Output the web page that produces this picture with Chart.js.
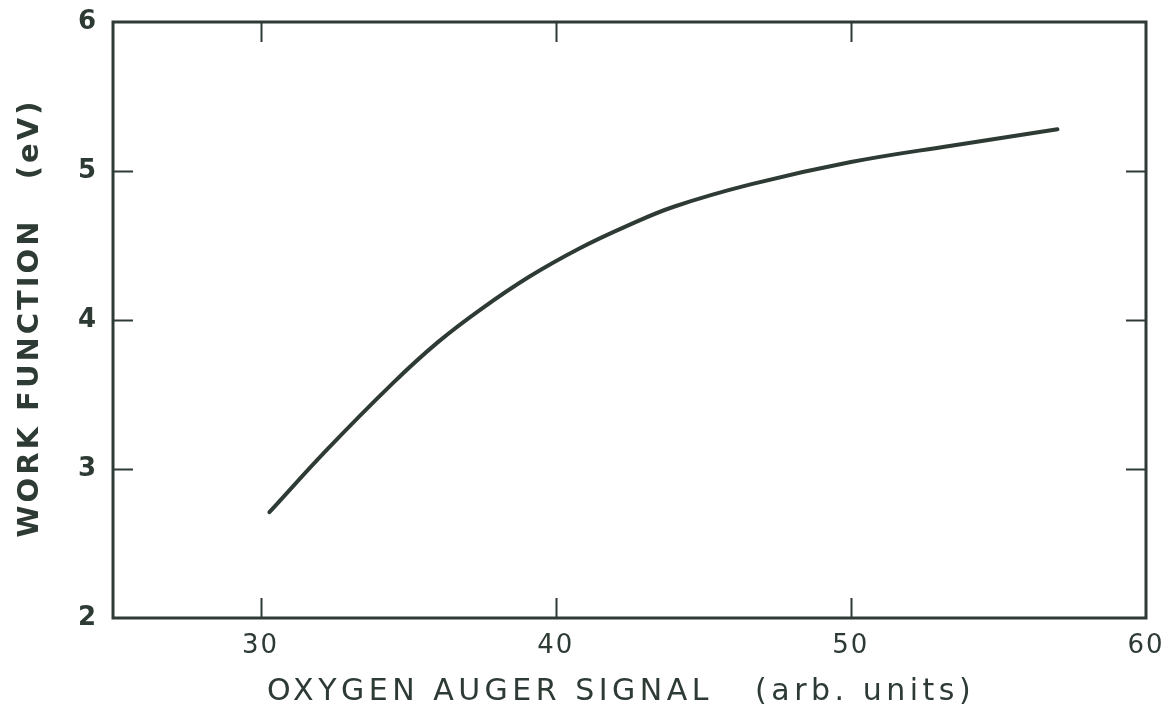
<!DOCTYPE html>
<html>
<head>
<meta charset="utf-8">
<script src="https://cdn.jsdelivr.net/npm/chart.js@4/dist/chart.umd.min.js"></script>
<style>
  html, body { margin: 0; padding: 0; background: #ffffff; }
  #c { display: block; }
</style>
</head>
<body>
<canvas id="c" width="1174" height="716"></canvas>
<script>
// Work function versus oxygen Auger signal
const augerSignal  = [30.3, 32.25, 34.5, 36.0, 37.45, 39.1, 40.8, 42.4, 44.0, 46.6, 50.0, 53.4, 57.0];
const workFunction = [2.71, 3.13, 3.58, 3.85, 4.07, 4.29, 4.48, 4.63, 4.76, 4.91, 5.06, 5.17, 5.28];
const xTicks = [30, 40, 50, 60];
const yTicks = [2, 3, 4, 5, 6];
const xTitle = 'OXYGEN AUGER SIGNAL   (arb. units)';
const yTitle = 'WORK FUNCTION   (eV)';

const INK = '#2e3b34';
const FONT = '"DejaVu Sans", "Liberation Sans", Arial, sans-serif';

// Boxed frame with inward ticks on all four sides, plus axis titles
const framePlugin = {
  id: 'frame',
  beforeDraw(chart) {
    chart.ctx.letterSpacing = '2px';
  },
  afterDraw(chart) {
    const { ctx, chartArea: a, scales: { x, y } } = chart;
    const len = 20;
    ctx.save();
    ctx.strokeStyle = INK;
    ctx.lineWidth = 3;
    ctx.lineJoin = 'miter';
    ctx.strokeRect(a.left, a.top, a.right - a.left, a.bottom - a.top);
    ctx.lineWidth = 2;
    ctx.beginPath();
    xTicks.forEach(v => {
      if (v <= x.min || v >= x.max) return;
      const px = Math.round(x.getPixelForValue(v)) + 0.5;
      ctx.moveTo(px, a.bottom); ctx.lineTo(px, a.bottom - len);
      ctx.moveTo(px, a.top);    ctx.lineTo(px, a.top + len);
    });
    yTicks.forEach(v => {
      if (v <= y.min || v >= y.max) return;
      const py = Math.round(y.getPixelForValue(v)) + 0.5;
      ctx.moveTo(a.left, py);  ctx.lineTo(a.left + len, py);
      ctx.moveTo(a.right, py); ctx.lineTo(a.right - len, py);
    });
    ctx.stroke();

    ctx.fillStyle = INK;
    ctx.textAlign = 'center';
    ctx.textBaseline = 'middle';
    // x title
    ctx.font = '400 30px ' + FONT;
    ctx.letterSpacing = '4.5px';
    ctx.fillText(xTitle, 621, 692);
    // y title, rotated
    ctx.translate(30, 318);
    ctx.rotate(-Math.PI / 2);
    ctx.font = '700 29px ' + FONT;
    ctx.letterSpacing = '3px';
    ctx.fillText(yTitle, 0, 0);
    ctx.restore();
  }
};

new Chart(document.getElementById('c'), {
  type: 'line',
  data: {
    datasets: [{
      data: augerSignal.map((v, i) => ({ x: v, y: workFunction[i] })),
      borderColor: INK,
      borderWidth: 4,
      borderCapStyle: 'round',
      pointRadius: 0,
      tension: 0.4,
      fill: false
    }]
  },
  options: {
    responsive: false,
    animation: false,
    devicePixelRatio: 1,
    layout: { padding: { top: 22, right: 28, left: 0, bottom: 0 } },
    plugins: { legend: { display: false }, tooltip: { enabled: false }, title: { display: false } },
    scales: {
      x: {
        type: 'linear',
        min: 25, max: 60,
        afterBuildTicks: s => { s.ticks = xTicks.map(v => ({ value: v })); },
        afterFit: s => { s.height = 98; s.paddingLeft = 0; s.paddingRight = 0; },
        grid: { display: false, drawTicks: false },
        border: { display: false },
        ticks: { color: INK, font: { family: FONT, size: 26 }, padding: 13, maxRotation: 0 }
      },
      y: {
        type: 'linear',
        min: 2, max: 6,
        afterBuildTicks: s => { s.ticks = yTicks.map(v => ({ value: v })); },
        afterFit: s => { s.width = 113; s.paddingTop = 0; s.paddingBottom = 0; },
        grid: { display: false, drawTicks: false },
        border: { display: false },
        ticks: { color: INK, font: { family: FONT, size: 26, weight: 'bold' }, padding: 15 }
      }
    }
  },
  plugins: [framePlugin]
});
</script>
</body>
</html>
